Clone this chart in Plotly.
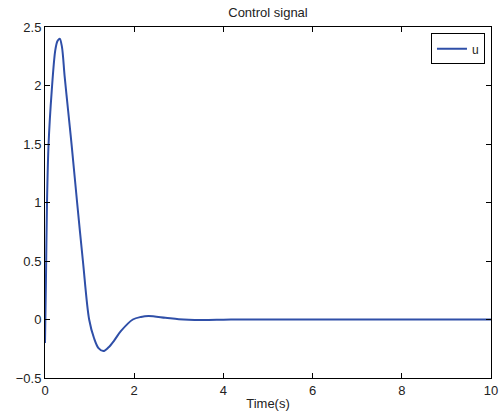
import plotly.graph_objects as go

t = [0, 0.02, 0.045, 0.08, 0.15, 0.23, 0.28, 0.33, 0.38, 0.44, 0.52, 0.6, 0.72, 0.85, 0.99, 1.1,
     1.2, 1.31, 1.42, 1.55, 1.7, 1.97, 2.15, 2.32, 2.7, 3.0, 3.5, 4.0, 4.5, 5, 6, 7, 8, 9, 10]
u = [-0.2, 0.3, 1.0, 1.5, 1.95, 2.3, 2.38, 2.4, 2.33, 2.08, 1.78, 1.48, 1.0, 0.5, 0.0, -0.16,
     -0.245, -0.27, -0.24, -0.18, -0.1, 0.0, 0.022, 0.03, 0.015, 0.002, -0.005, -0.002, 0.001, 0, 0, 0, 0, 0, 0]

x_ticks = [0, 2, 4, 6, 8, 10]
y_ticks = [-0.5, 0, 0.5, 1, 1.5, 2, 2.5]

fig = go.Figure()
fig.add_trace(go.Scatter(x=t, y=u, mode="lines", name="u",
                         line=dict(color="#2f4fa8", width=2, shape="spline", smoothing=0.9)))

FAM = "Liberation Sans, Arial, sans-serif"
font = dict(family=FAM, size=13, color="#222")
axis_common = dict(showline=True, linecolor="black", linewidth=1, mirror="ticks",
                   ticks="inside", ticklen=5, tickcolor="black", showgrid=False,
                   zeroline=False, tickfont=font, automargin=False)

fig.update_layout(
    width=500, height=419,
    margin=dict(l=45, r=9, t=27, b=41),
    paper_bgcolor="white", plot_bgcolor="white",
    title=dict(text="Control signal", x=0.5, xref="paper", xanchor="center",
               y=1 - 12/419, yanchor="middle",
               font=dict(family=FAM, size=13, color="#222")),
    xaxis=dict(range=[0, 10], tickvals=x_ticks,
               title=dict(text="Time(s)", standoff=2,
                          font=dict(family=FAM, size=13, color="#222")),
               **axis_common),
    yaxis=dict(range=[-0.5, 2.5], tickvals=y_ticks, **axis_common),
    showlegend=True,
    legend=dict(x=0.9865, y=0.982, xanchor="right", yanchor="top",
                bordercolor="black", borderwidth=1, bgcolor="white",
                font=dict(family=FAM, size=12, color="#222"),
                tracegroupgap=0),
)

fig.write_html("out.html")
